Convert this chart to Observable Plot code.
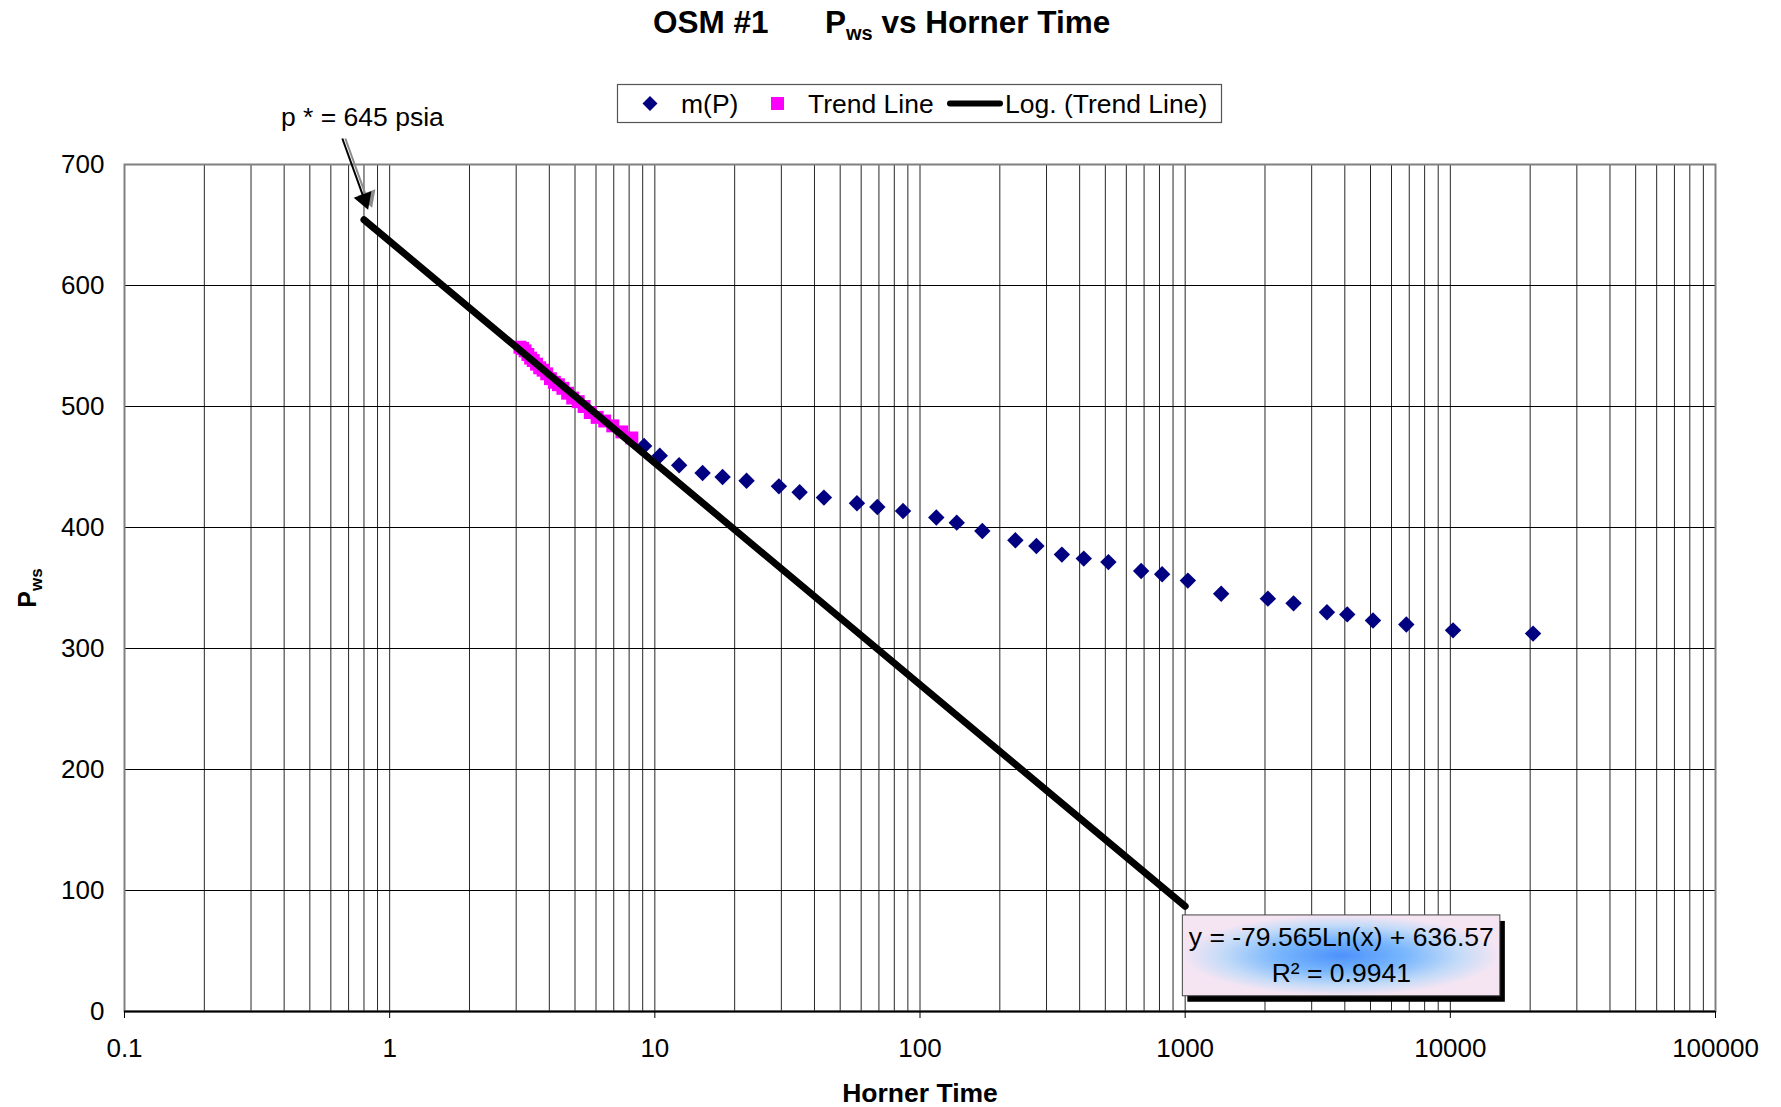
<!DOCTYPE html>
<html>
<head>
<meta charset="utf-8">
<script src="https://cdn.jsdelivr.net/npm/d3@7"></script>
<script src="https://cdn.jsdelivr.net/npm/@observablehq/plot@0.6"></script>
<style>
  html, body { margin: 0; padding: 0; background: #fff; }
  #wrap { position: relative; width: 1781px; height: 1107px; overflow: hidden; }
  #overlay { position: absolute; left: 0; top: 0; pointer-events: none; }
</style>
</head>
<body>
<div id="wrap"></div>
<script>
// Build-up test OSM #1: shut-in pressure (psia) against Horner time
const hornerTime = [9.11, 10.44, 12.35, 15.14, 18.01, 22.18, 29.37, 35.16, 43.42, 57.84,
  69.03, 86.3, 115.2, 137.6, 171.8, 228.9, 274.8, 342.8, 414.6, 513.5,
  682.3, 818.7, 1023.8, 1367, 2051, 2563, 3425, 4086, 5109, 6823, 10238, 20510];
const pws = [467.3, 459.4, 451.4, 445.0, 441.7, 438.7, 434.0, 429.1, 424.7, 420.0,
  416.9, 413.6, 408.2, 404.0, 397.1, 389.4, 384.7, 377.6, 374.3, 371.4,
  364.0, 361.3, 356.1, 345.3, 341.2, 337.3, 329.9, 328.2, 323.2, 319.9, 315.0, 312.3];

// Late-time points used for the semilog straight line
const trendTime = [8.19, 7.51, 6.94, 6.47, 6.06, 5.71, 5.41, 5.14, 4.90, 4.69, 4.50, 4.33,
  4.18, 4.04, 3.91, 3.79, 3.68, 3.58, 3.48, 3.40, 3.32, 3.24, 3.17, 3.10];
const trendPws = [474, 479, 484, 488, 491, 495, 500, 504, 507, 511, 515, 518,
  520, 523, 527, 530, 532, 535, 538, 540, 543, 546, 548, 549];

// Logarithmic fit y = a·ln(x) + b, drawn back to p* and forward to x = 1000
const fitSlope = -79.565;
const fitIntercept = 636.57;
const fitR2 = 0.9941;
const fitRange = [0.8, 1000];

// Axis ticks
const xTicks = [0.1, 1, 10, 100, 1000, 10000, 100000];
const yTicks = [0, 100, 200, 300, 400, 500, 600, 700];

const points = hornerTime.map((x, i) => ({x, y: pws[i]}));
const trendPoints = trendTime.map((x, i) => ({x, y: trendPws[i]}));
const fitLine = fitRange.map(x => ({x, y: fitSlope * Math.log(x) + fitIntercept}));

// Annotation anchors (in data units)
const pStar = {label: "p * = 645 psia", tx: 0.789, ty: 739, x1: 0.663, y1: 721.5, x2: 0.803, y2: 671};
const eqBox = {x1: 980, x2: 15440, y1: 12.6, y2: 79.4, cx: 3879, line1: 60.9, line2: 31.7};

const font = "'Liberation Sans', Arial, Helvetica, sans-serif";
const xGrid = d3.scaleLog().domain([0.1, 100000]).ticks();

const plot = Plot.plot({
  width: 1781,
  height: 1107,
  marginLeft: 124,
  marginRight: 66,
  marginTop: 164,
  marginBottom: 96,
  style: {fontFamily: font, fontSize: "26px", background: "white", color: "black"},
  x: {type: "log", domain: [0.1, 100000]},
  y: {domain: [0, 700]},
  marks: [
    Plot.ruleX(xGrid, {stroke: "black", strokeWidth: 1, strokeOpacity: 0.85}),
    Plot.ruleY(yTicks, {stroke: "black", strokeWidth: 1}),
    Plot.frame({stroke: "#808080", strokeWidth: 2}),
    Plot.ruleY([0], {stroke: "black", strokeWidth: 2}),
    Plot.axisX({ticks: xTicks, tickFormat: d => String(d), tickSize: 7, tickPadding: 20, fontSize: 26, label: null}),
    Plot.axisY({ticks: yTicks, tickSize: 0, tickPadding: 20, fontSize: 26, label: null}),
    Plot.text(["Horner Time"], {text: d => d, frameAnchor: "bottom", dy: 90, fontSize: 26.5, fontWeight: "bold"}),

    // measured data
    Plot.dot(points, {x: "x", y: "y", symbol: "diamond2", r: 7.4, fill: "#000080", stroke: null}),
    Plot.dot(trendPoints, {x: "x", y: "y", symbol: "square", r: 7.3, fill: "#ff00ff", stroke: null}),
    Plot.line(fitLine, {x: "x", y: "y", stroke: "black", strokeWidth: 7, strokeLinecap: "round"}),

    // p* callout
    Plot.link([pStar], {x1: "x1", y1: "y1", x2: "x2", y2: "y2", dx: 3, stroke: "#8c8c8c", strokeWidth: 2}),
    Plot.dot([pStar], {x: "x2", y: "y2", dx: 4, dy: -2, symbol: "triangle", r: 7, rotate: 160, fill: "#8c8c8c", stroke: null}),
    Plot.link([pStar], {x1: "x1", y1: "y1", x2: "x2", y2: "y2", stroke: "black", strokeWidth: 2}),
    Plot.dot([pStar], {x: "x2", y: "y2", symbol: "triangle", r: 7, rotate: 160, fill: "black", stroke: null}),
    Plot.text([pStar], {x: "tx", y: "ty", text: "label", fontSize: 26.5}),

    // fit equation box
    Plot.rect([eqBox], {x1: "x1", x2: "x2", y1: "y1", y2: "y2", dx: 5, dy: 6, fill: "black"}),
    Plot.rect([eqBox], {x1: "x1", x2: "x2", y1: "y1", y2: "y2", fill: "url(#eqFill)", stroke: "#444", strokeWidth: 1}),
    Plot.text([eqBox], {x: "cx", y: "line1", text: () => `y = ${fitSlope}Ln(x) + ${fitIntercept}`, fontSize: 26.5}),
    Plot.text([eqBox], {x: "cx", y: "line2", text: () => `R² = ${fitR2}`, fontSize: 26.5})
  ]
});

// gradient used by the equation box
const defs = d3.select(plot).insert("defs", ":first-child");
const grad = defs.append("radialGradient").attr("id", "eqFill")
  .attr("cx", "50%").attr("cy", "50%").attr("r", "50%");
[["0%", "#4d91fb"], ["40%", "#78b6fd"], ["75%", "#c4dbf8"], ["100%", "#f5e5f3"]]
  .forEach(([o, c]) => grad.append("stop").attr("offset", o).attr("stop-color", c));

const wrap = document.getElementById("wrap");
wrap.appendChild(plot);

// Title, legend and y-axis title drawn above the chart
const ov = d3.select(wrap).append("svg").attr("id", "overlay")
  .attr("width", 1781).attr("height", 1107)
  .style("font-family", font);

ov.append("text").attr("x", 653).attr("y", 33)
  .attr("font-size", 31.5).attr("font-weight", "bold").text("OSM #1");
const t2 = ov.append("text").attr("x", 825).attr("y", 33)
  .attr("font-size", 31.5).attr("font-weight", "bold");
t2.append("tspan").text("P");
t2.append("tspan").attr("font-size", 20).attr("dy", 7).text("ws");
t2.append("tspan").attr("dy", -7).text(" vs Horner Time");

// legend
const lg = ov.append("g");
lg.append("rect").attr("x", 617.5).attr("y", 84.5).attr("width", 604).attr("height", 38)
  .attr("fill", "white").attr("stroke", "#555").attr("stroke-width", 1.2);
const ly = 103.5;
lg.append("path").attr("d", `M650,${ly - 7.5}L657.5,${ly}L650,${ly + 7.5}L642.5,${ly}Z`).attr("fill", "#000080");
lg.append("rect").attr("x", 771).attr("y", ly - 6.5).attr("width", 13).attr("height", 13).attr("fill", "#ff00ff");
lg.append("line").attr("x1", 950).attr("x2", 1000).attr("y1", ly).attr("y2", ly)
  .attr("stroke", "black").attr("stroke-width", 6).attr("stroke-linecap", "round");
[["m(P)", 681], ["Trend Line", 808], ["Log. (Trend Line)", 1005]].forEach(([t, x]) =>
  lg.append("text").attr("x", x).attr("y", ly + 9.3).attr("font-size", 26.5).text(t));

// y-axis title
const yl = ov.append("text").attr("transform", "translate(36,588) rotate(-90)")
  .attr("text-anchor", "middle").attr("font-size", 25).attr("font-weight", "bold");
yl.append("tspan").text("P");
yl.append("tspan").attr("font-size", 17).attr("dy", 6).text("ws");
</script>
</body>
</html>
